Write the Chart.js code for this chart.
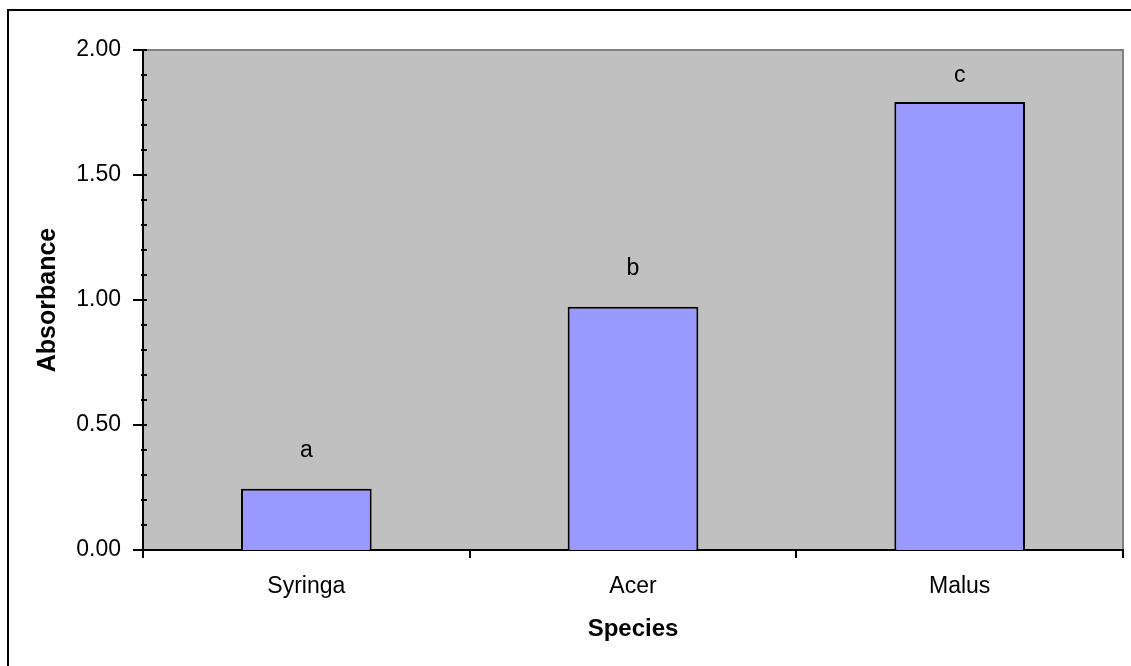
<!DOCTYPE html>
<html>
<head>
<meta charset="utf-8">
<title>Absorbance by species</title>
<script src="https://cdn.jsdelivr.net/npm/chart.js@4/dist/chart.umd.min.js"></script>
<style>
    html, body { margin: 0; padding: 0; background: #ffffff; }
    canvas { display: block; }
</style>
</head>
<body>
<canvas id="absChart" width="1131" height="666"></canvas>
<script>
// ---- data ----
const species = ['Syringa', 'Acer', 'Malus'];
const absorbance = [0.245, 0.973, 1.792];
const groupLetters = ['a', 'b', 'c'];
// where the letter baseline sits, in absorbance units
const letterLevels = [0.372, 1.10, 1.873];
const yTickLabels = ['0.00', '0.50', '1.00', '1.50', '2.00'];

const FONT = 'Liberation Sans, Arial, sans-serif';

// grey plot area, outer frame, y axis tick marks, letters over bars
const excelLook = {
    id: 'excelLook',
    beforeDraw(chart) {
        const { ctx, chartArea: a } = chart;
        ctx.save();
        ctx.fillStyle = '#c0c0c0';
        ctx.fillRect(a.left, a.top, a.right - a.left, a.bottom - a.top);
        // plot area border (top + right)
        ctx.strokeStyle = '#808080';
        ctx.lineWidth = 2;
        ctx.beginPath();
        ctx.moveTo(a.left, a.top);
        ctx.lineTo(a.right, a.top);
        ctx.lineTo(a.right, a.bottom);
        ctx.stroke();
        // chart frame
        ctx.strokeStyle = '#000000';
        ctx.beginPath();
        ctx.moveTo(8, chart.height);
        ctx.lineTo(8, 10);
        ctx.lineTo(chart.width, 10);
        ctx.stroke();
        ctx.restore();
    },
    afterDatasetsDraw(chart) {
        const { ctx } = chart;
        const x = chart.scales.x;
        const y = chart.scales.y;
        ctx.save();
        ctx.fillStyle = '#000000';
        ctx.font = '23px ' + FONT;
        ctx.textAlign = 'center';
        ctx.textBaseline = 'alphabetic';
        groupLetters.forEach((t, i) => {
            ctx.fillText(t, x.getPixelForValue(i), y.getPixelForValue(letterLevels[i]));
        });
        ctx.restore();
    },
    afterDraw(chart) {
        const { ctx, chartArea: a } = chart;
        const y = chart.scales.y;
        ctx.save();
        ctx.strokeStyle = '#000000';
        ctx.lineWidth = 2;
        for (let i = 0; i <= 20; i++) {
            const py = Math.round(y.getPixelForValue(i / 10));
            ctx.beginPath();
            ctx.moveTo(i % 5 === 0 ? a.left - 10 : a.left - 2, py);
            ctx.lineTo(a.left + 4, py);
            ctx.stroke();
        }
        ctx.restore();
    }
};

const absChart = new Chart(document.getElementById('absChart'), {
    type: 'bar',
    data: {
        labels: species,
        datasets: [{
            label: 'Absorbance',
            data: absorbance,
            backgroundColor: '#9999ff',
            borderColor: '#000000',
            borderWidth: 2,
            barPercentage: 0.4,
            categoryPercentage: 1.0
        }]
    },
    options: {
        responsive: false,
        animation: false,
        devicePixelRatio: 1,
        layout: {
            padding: { top: 50, right: 8, left: 0, bottom: 0 }
        },
        plugins: {
            legend: { display: false },
            tooltip: { enabled: false }
        },
        scales: {
            x: {
                offset: true,
                afterFit(scale) { scale.height = 116; },
                grid: {
                    display: true,
                    offset: true,
                    drawOnChartArea: false,
                    drawTicks: true,
                    tickLength: 8,
                    color: '#000000',
                    lineWidth: 2
                },
                border: { display: true, color: '#000000', width: 2 },
                ticks: {
                    color: '#000000',
                    padding: 17,
                    font: { family: FONT, size: 23, lineHeight: 1 }
                },
                title: {
                    display: true,
                    text: 'Species',
                    color: '#000000',
                    padding: { top: 0, bottom: 25 },
                    font: { family: FONT, size: 24, weight: 'bold', lineHeight: 1 }
                }
            },
            y: {
                min: 0,
                max: 2,
                afterFit(scale) { scale.width = 143; },
                grid: { display: false, drawTicks: false },
                border: { display: true, color: '#000000', width: 2 },
                ticks: {
                    stepSize: 0.5,
                    color: '#000000',
                    padding: 22,
                    font: { family: FONT, size: 23, lineHeight: 1 },
                    callback: function(value) {
                        return yTickLabels[Math.round(value * 2)];
                    }
                },
                title: {
                    display: true,
                    text: 'Absorbance',
                    color: '#000000',
                    padding: { top: 36, bottom: 0 },
                    font: { family: FONT, size: 25, weight: 'bold', lineHeight: 1 }
                }
            }
        }
    },
    plugins: [excelLook]
});
</script>
</body>
</html>
